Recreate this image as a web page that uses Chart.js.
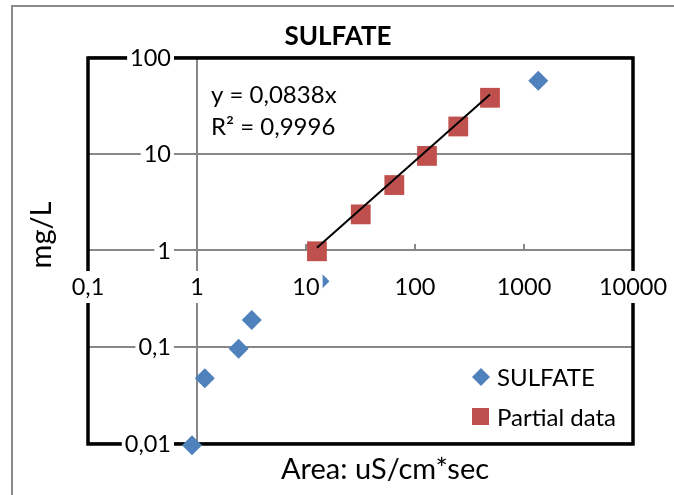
<!DOCTYPE html>
<html>
<head>
<meta charset="utf-8">
<script src="https://cdn.jsdelivr.net/npm/chart.js@4/dist/chart.umd.min.js"></script>
<style>
  html, body { margin: 0; padding: 0; background: #fff; }
  canvas { display: block; }
</style>
</head>
<body>
<canvas id="sulfateChart" width="674" height="495"></canvas>
<script>
// Calibration points (area vs concentration)
const sulfateArea = [0.9, 1.18, 2.41, 3.18, 13.3, 1352];
const sulfateConc = [0.0095, 0.047, 0.095, 0.188, 0.474, 56.7];
const partialArea = [12.6, 31.8, 64.6, 128.8, 249.5, 487.6];
const partialConc = [0.97, 2.34, 4.71, 9.44, 19.05, 37.8];

// Linear fit through origin for the partial data
const trendSlope = 0.0838;
const trendText = ['y = 0,0838x', 'R\u00b2 = 0,9996'];

const xTicks = [0.1, 1, 10, 100, 1000, 10000];
const xTickLabels = ['0,1', '1', '10', '100', '1000', '10000'];
const yTicks = [0.01, 0.1, 1, 10, 100];
const yTickLabels = ['0,01', '0,1', '1', '10', '100'];

const FONT = 'Lato, "Open Sans", sans-serif';

function toPoints(xs, ys) {
    return xs.map((v, i) => ({ x: v, y: ys[i] }));
}

const trendX = [Math.min(...partialArea), Math.max(...partialArea)];

function strokeLine(ctx, x1, y1, x2, y2) {
    ctx.beginPath();
    ctx.moveTo(x1, y1);
    ctx.lineTo(x2, y2);
    ctx.stroke();
}

// label with a white box behind it, like office charts do
function boxedText(ctx, text, x, y, align) {
    const w = ctx.measureText(text).width;
    const left = align === 'right' ? x - w : x - w / 2;
    ctx.fillStyle = '#fff';
    ctx.fillRect(left - 3, y - 16, w + 6, 32);
    ctx.fillStyle = '#000';
    ctx.textAlign = align;
    ctx.fillText(text, x, y);
}

const officeFrame = {
    id: 'officeFrame',
    beforeDatasetsDraw(chart) {
        const { ctx, chartArea: a, scales: { x, y } } = chart;
        ctx.save();

        // outer chart border
        ctx.strokeStyle = '#8a8a8a';
        ctx.lineWidth = 2;
        ctx.strokeRect(12, 6, chart.width + 20, chart.height + 20);

        // horizontal gridlines
        ctx.strokeStyle = '#878787';
        ctx.lineWidth = 2;
        yTicks.forEach(v => {
            const py = Math.round(y.getPixelForValue(v));
            strokeLine(ctx, a.left, py, a.right, py);
        });

        // value axis crosses at x = 1
        const px1 = Math.round(x.getPixelForValue(1));
        strokeLine(ctx, px1, a.top, px1, a.bottom);

        // category axis tick marks (axis sits at y = 1)
        const py1 = Math.round(y.getPixelForValue(1));
        xTicks.forEach(v => {
            const px = Math.round(x.getPixelForValue(v));
            strokeLine(ctx, px, py1 - 6, px, py1);
        });

        // plot area frame
        ctx.strokeStyle = '#000';
        ctx.lineWidth = 3.5;
        ctx.strokeRect(a.left, a.top + 1, a.width, a.height);
        ctx.restore();
    },
    afterDatasetsDraw(chart) {
        const { ctx, scales: { x, y } } = chart;
        ctx.save();
        ctx.textBaseline = 'middle';

        // tick labels
        ctx.font = '23.5px ' + FONT;
        yTicks.forEach((v, i) => {
            boxedText(ctx, yTickLabels[i], 171, y.getPixelForValue(v) + 1, 'right');
        });
        xTicks.forEach((v, i) => {
            boxedText(ctx, xTickLabels[i], x.getPixelForValue(v), 287, 'center');
        });

        // trendline equation
        ctx.font = '24px ' + FONT;
        ctx.fillStyle = '#000';
        ctx.textAlign = 'left';
        ctx.fillText(trendText[0], 211, 95);
        ctx.fillText(trendText[1], 211, 127);

        // legend
        const sets = chart.data.datasets;
        const sulf = sets[2], part = sets[1];
        ctx.fillStyle = sulf.backgroundColor;
        ctx.beginPath();
        ctx.moveTo(481, 368);
        ctx.lineTo(490, 377);
        ctx.lineTo(481, 386);
        ctx.lineTo(472, 377);
        ctx.closePath();
        ctx.fill();
        ctx.fillStyle = part.backgroundColor;
        ctx.fillRect(472, 408, 17, 17);
        ctx.fillStyle = '#000';
        ctx.fillText(sulf.label, 497, 378);
        ctx.fillText(part.label, 497, 418);

        // titles
        ctx.textAlign = 'center';
        ctx.font = 'bold 26px ' + FONT;
        ctx.fillText('SULFATE', 338, 37);
        ctx.font = '29px ' + FONT;
        ctx.fillText('Area: uS/cm*sec', 385, 470);
        ctx.translate(42, 235);
        ctx.rotate(-Math.PI / 2);
        ctx.fillText('mg/L', 0, 0);
        ctx.restore();
    }
};

new Chart(document.getElementById('sulfateChart'), {
    type: 'scatter',
    data: {
        datasets: [{
            type: 'line',
            label: 'Linear (Partial data)',
            data: trendX.map(v => ({ x: v, y: trendSlope * v })),
            borderColor: '#000',
            borderWidth: 2,
            pointRadius: 0,
            fill: false
        }, {
            label: 'Partial data',
            data: toPoints(partialArea, partialConc),
            backgroundColor: '#c0504d',
            borderWidth: 0,
            pointStyle: 'rect',
            pointRadius: 14
        }, {
            label: 'SULFATE',
            data: toPoints(sulfateArea, sulfateConc),
            backgroundColor: '#4f81bd',
            borderWidth: 0,
            pointStyle: 'rectRot',
            pointRadius: 10
        }]
    },
    options: {
        responsive: false,
        animation: false,
        devicePixelRatio: 1,
        clip: false,
        layout: { padding: { left: 88, right: 41, top: 57, bottom: 52 } },
        scales: {
            x: { type: 'logarithmic', min: 0.1, max: 10000, display: false },
            y: { type: 'logarithmic', min: 0.01, max: 100, display: false }
        },
        plugins: {
            legend: { display: false },
            title: { display: false },
            tooltip: { enabled: false }
        }
    },
    plugins: [officeFrame]
});
</script>
</body>
</html>
